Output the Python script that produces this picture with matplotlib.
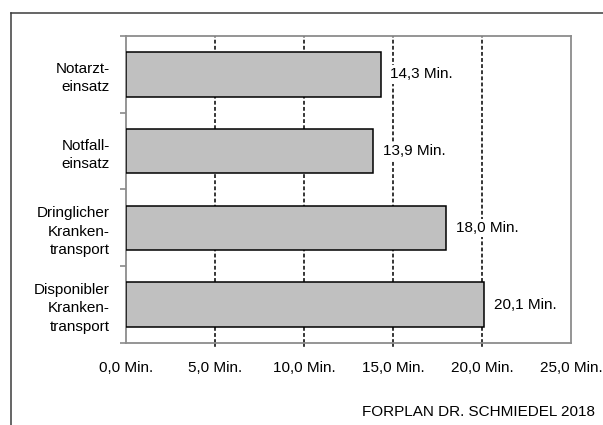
import matplotlib.pyplot as plt
from matplotlib.lines import Line2D

plt.rcParams['font.family'] = ['Liberation Sans', 'DejaVu Sans']

# Einsatzarten (von oben nach unten) und mittlere Dauer in Minuten
categories = ['Notarzt-\neinsatz', 'Notfall-\neinsatz',
              'Dringlicher\nKranken-\ntransport', 'Disponibler\nKranken-\ntransport']
minutes = [14.3, 13.9, 18.0, 20.1]
x_ticks = [0, 5, 10, 15, 20, 25]
x_tick_labels = ['0,0 Min.', '5,0 Min.', '10,0 Min.', '15,0 Min.', '20,0 Min.', '25,0 Min.']
source = 'FORPLAN DR. SCHMIEDEL 2018'

fs = 11

fig = plt.figure(figsize=(6.03, 4.25), dpi=100)
ax = fig.add_axes([126 / 603, 1 - 343 / 425, 445 / 603, 307 / 425])

pos = list(range(len(categories)))
ax.barh(pos, minutes, height=0.58, color='#c0c0c0', edgecolor='black',
        linewidth=1.1, zorder=3)

# gestrichelte Hilfslinien bei 5, 10, 15, 20 Minuten
for x in x_ticks[1:-1]:
    ax.axvline(x, color='black', linestyle=(0, (2.5, 1.5)), linewidth=1.1, zorder=1)
    ax.plot([x, x], [len(categories) - 0.5, len(categories) - 0.5 + 0.05],
            color='black', linestyle=(0, (2.5, 1.5)), linewidth=1.1,
            clip_on=False, zorder=1)

# Wertbeschriftung mit weißem Hintergrund über den Hilfslinien
for p, v in zip(pos, minutes):
    ax.annotate(f'{v:.1f} Min.'.replace('.', ',', 1), xy=(v, p), xytext=(7, 0),
                textcoords='offset points', va='center', ha='left', fontsize=fs,
                bbox=dict(facecolor='white', edgecolor='none', pad=1.5), zorder=4)

ax.set_xlim(0, 25)
ax.set_ylim(len(categories) - 0.5, -0.5)
ax.set_xticks(x_ticks)
ax.set_xticklabels(x_tick_labels, fontsize=fs)
ax.tick_params(axis='x', length=0, pad=13)

ax.set_yticks(pos)
ax.set_yticklabels(categories, fontsize=fs, ha='right', multialignment='right',
                   linespacing=1.4)
ax.tick_params(axis='y', which='major', length=0, pad=11.5)
ax.set_yticks([-0.5, 0.5, 1.5, 2.5, 3.5], minor=True)
ax.tick_params(axis='y', which='minor', length=4, color='#808080', width=1.1)

for s in ax.spines.values():
    s.set_color('#8c8c8c')
    s.set_linewidth(1.3)

fig.text(595 / 603, 1 - 412 / 425, source, ha='right', va='center', fontsize=fs)

# Rahmen links und oben
fig.add_artist(Line2D([11 / 603, 11 / 603], [0, 1 - 12.5 / 425],
                      color='#3c3c3c', linewidth=1.1))
fig.add_artist(Line2D([11 / 603, 1], [1 - 12.5 / 425, 1 - 12.5 / 425],
                      color='#3c3c3c', linewidth=1.1))

fig.savefig('out.png', dpi=100)
